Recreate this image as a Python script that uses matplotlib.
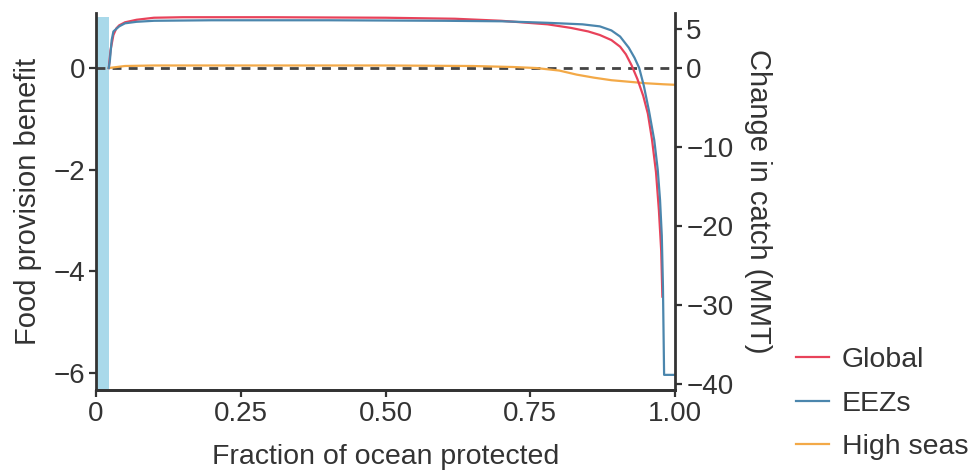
import matplotlib
matplotlib.use('Agg')
import matplotlib.pyplot as plt

plt.rcParams['font.family'] = ['Liberation Sans', 'DejaVu Sans']

# values (left axis = food provision benefit)
global_x = [0.022, 0.025, 0.03, 0.035, 0.04, 0.05, 0.07, 0.1, 0.15, 0.3, 0.5, 0.62,
            0.7, 0.78, 0.82, 0.85, 0.87, 0.89, 0.905, 0.915, 0.925, 0.935, 0.945,
            0.953, 0.96, 0.967, 0.972, 0.976, 0.978]
global_y = [0.0, 0.35, 0.65, 0.78, 0.84, 0.9, 0.95, 0.99, 1.0, 1.0, 0.99, 0.97,
            0.93, 0.86, 0.79, 0.72, 0.65, 0.55, 0.42, 0.27, 0.05, -0.22, -0.55,
            -0.9, -1.4, -2.05, -2.8, -3.6, -4.5]

eez_x = [0.022, 0.024, 0.027, 0.03, 0.04, 0.05, 0.07, 0.1, 0.2, 0.4, 0.6, 0.7,
         0.78, 0.84, 0.87, 0.89, 0.905, 0.92, 0.93, 0.938, 0.946, 0.955, 0.964,
         0.97, 0.974, 0.977, 0.979, 0.981, 0.998]
eez_y = [0.0, 0.16, 0.55, 0.72, 0.82, 0.88, 0.91, 0.93, 0.94, 0.94, 0.93, 0.92,
         0.89, 0.86, 0.82, 0.74, 0.62, 0.4, 0.2, 0.0, -0.35, -0.85, -1.42,
         -2.0, -2.6, -3.3, -4.3, -6.04, -6.04]

high_x = [0.022, 0.05, 0.1, 0.3, 0.5, 0.65, 0.72, 0.76, 0.8, 0.83, 0.86, 0.89,
          0.92, 0.95, 0.98, 1.0]
high_y = [0.0, 0.04, 0.05, 0.05, 0.05, 0.04, 0.02, 0.0, -0.05, -0.13, -0.19,
          -0.24, -0.27, -0.3, -0.32, -0.33]

shade_end = 0.022
shade_top = 1.0

x_ticks = [0, 0.25, 0.5, 0.75, 1.0]
x_labels = ['0', '0.25', '0.50', '0.75', '1.00']
left_ticks = [-6, -4, -2, 0]
right_ticks = [-40, -30, -20, -10, 0, 5]

c_global = '#e8425a'
c_eez = '#4b86ad'
c_high = '#f3a947'
c_shade = '#a9d9ea'
c_ink = '#333333'

fig = plt.figure(figsize=(9.77, 4.70), dpi=100)
ax = fig.add_axes([0.0983, 0.170, 0.5927, 0.802])
ax2 = ax.twinx()

ylo, yhi = -6.34, 1.08
ax.set_xlim(0, 1.0)
ax.set_ylim(ylo, yhi)
ax2.set_ylim(-40.8, 6.96)

ax.axvspan(0, shade_end, ymin=0, ymax=(shade_top - ylo) / (yhi - ylo),
           color=c_shade, lw=0, zorder=1)
ax.axhline(0, color='#444444', ls=(0, (3.2, 2.6)), lw=2, zorder=2)
ax.plot(high_x, high_y, color=c_high, lw=1.6, zorder=3, label='High seas')
ax.plot(global_x, global_y, color=c_global, lw=1.6, zorder=3, label='Global')
ax.plot(eez_x, eez_y, color=c_eez, lw=1.6, zorder=4, label='EEZs')

for a in (ax, ax2):
    a.spines['top'].set_visible(False)
    for s in ('left', 'right', 'bottom'):
        a.spines[s].set_color(c_ink)
        a.spines[s].set_linewidth(2)
    a.tick_params(colors=c_ink, labelsize=20, length=5, width=1.6, pad=3)

ax2.spines['left'].set_visible(False)
ax.spines['right'].set_visible(False)

ax.set_xticks(x_ticks)
ax.set_xticklabels(x_labels)
ax.set_yticks(left_ticks)
ax.set_yticklabels([str(t).replace('-', '\u2212') for t in left_ticks])
ax2.set_yticks(right_ticks)
ax2.set_yticklabels([str(t).replace('-', '\u2212') for t in right_ticks])

ax.set_xlabel('Fraction of ocean protected', fontsize=20.5, color=c_ink, labelpad=12)
ax.set_ylabel('Food provision benefit', fontsize=21, color=c_ink, labelpad=8)
ax2.set_ylabel('Change in catch (MMT)', fontsize=21, color=c_ink,
               rotation=270, labelpad=28)

h = {l.get_label(): l for l in ax.get_lines() if not l.get_label().startswith('_')}
fig.legend([h['Global'], h['EEZs'], h['High seas']], ['Global', 'EEZs', 'High seas'],
           loc='upper left', bbox_to_anchor=(0.815, 0.262), frameon=False,
           fontsize=20.5, handlelength=1.15, handletextpad=0.45, labelspacing=0.62,
           borderpad=0, borderaxespad=0, labelcolor=c_ink)

fig.savefig('out.png', dpi=100)
